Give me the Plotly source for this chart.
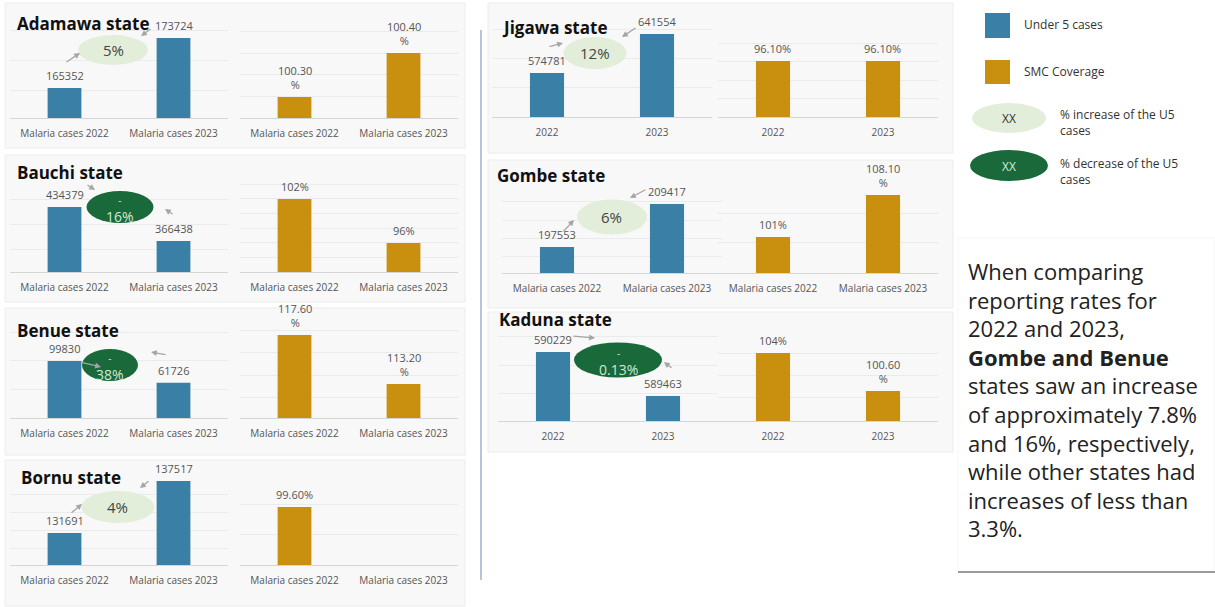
import plotly.graph_objects as go

W, H = 1215, 607

# ---------------- data ----------------
states = ["Adamawa state", "Bauchi state", "Benue state", "Bornu state",
          "Jigawa state", "Gombe state", "Kaduna state"]
cats_long = ["Malaria cases 2022", "Malaria cases 2023"]
cats_short = ["2022", "2023"]
use_short = [False, False, False, False, True, False, True]

u5_2022 = [165352, 434379, 99830, 131691, 574781, 197553, 590229]
u5_2023 = [173724, 366438, 61726, 137517, 641554, 209417, 589463]

smc_2022 = [100.30, 102, 117.60, 99.60, 96.10, 101, 104]
smc_2023 = [100.40, 96, 113.20, None, 96.10, 108.10, 100.60]
smc_2022_lbl = ["100.30<br>%", "102%", "117.60<br>%", "99.60%", "96.10%", "101%", "104%"]
smc_2023_lbl = ["100.40<br>%", "96%", "113.20<br>%", "", "96.10%", "108.10<br>%", "100.60<br>%"]

change_lbl = ["5%", "-16%", "-38%", "4%", "12%", "6%", "-0.13%"]

summary_lines = ["When comparing", "reporting rates for", "2022 and 2023,",
                 "<b>Gombe and Benue</b>", "states saw an increase",
                 "of approximately 7.8%", "and 16%, respectively,",
                 "while other states had", "increases of less than", "3.3%."]

# ---------------- styles / geometry ----------------
BLUE = "#3A7FA5"
GOLD = "#C8900E"
LIGHT = "#E2EEDA"
DARK = "#19693B"
FONT = "Open Sans, Noto Sans, DejaVu Sans"

geo = [
    dict(rect=(5, 3, 465, 148), title=(15, 24), bx=(10, 228), gx=(240, 458), base=118, top=28,
         br=[160329, 175399], gr=[100.252, 100.457], ell=(113, 50, 70, 30),
         arrows=[((65, 63), (80, 53)), ((152, 28), (141, 36))]),
    dict(rect=(5, 155, 465, 302), title=(15, 172), bx=(10, 228), gx=(240, 458), base=272, top=182,
         br=[304488, 484344], gr=[92.04, 104.31], ell=(120, 207, 67, 32),
         arrows=[((86, 184), (95, 190)), ((174, 215), (165, 209))]),
    dict(rect=(5, 308, 465, 455), title=(15, 330), bx=(10, 228), gx=(240, 458), base=418, top=328,
         br=[0, 157600], gr=[110.15, 118.23], ell=(110, 365, 56, 32),
         arrows=[((80, 362), (101, 367)), ((167, 355), (151, 352))]),
    dict(rect=(5, 460, 465, 606), title=(19, 477), bx=(10, 228), gx=(240, 458), base=565, top=477,
         br=[128106, 137965], gr=[90, 104.57], ell=(118, 507, 73, 32),
         arrows=[((70, 514), (82, 504)), ((150, 480), (140, 488))]),
    dict(rect=(488, 3, 953, 153), title=(500, 28), bx=(492, 712), gx=(718, 938), base=117, top=27,
         br=[499441, 653551], gr=[90, 99.8], ell=(595, 53, 63, 32),
         arrows=[((548, 47), (563, 43)), ((637, 27), (622, 37))]),
    dict(rect=(488, 160, 953, 308), title=(495, 176), bx=(502, 722), gx=(718, 938), base=273, top=187,
         br=[190379, 214110], gr=[94.9, 109.44], ell=(612, 217, 70, 35),
         arrows=[((562, 233), (574, 220)), ((647, 189), (630, 198))]),
    dict(rect=(488, 312, 953, 452), title=(497, 319), bx=(498, 718), gx=(718, 938), base=421, top=331,
         br=[589028, 590595], gr=[97.92, 105.97], ell=(618, 360, 88, 35),
         arrows=[((572, 336), (595, 338)), ((673, 369), (664, 362))]),
]


def px(x):
    return x / W


def py(y):
    return 1 - y / H


fig = go.Figure()
layout = dict(width=W, height=H, margin=dict(l=0, r=0, t=0, b=0),
              paper_bgcolor="white", plot_bgcolor="rgba(0,0,0,0)",
              showlegend=False, font=dict(family=FONT, color="#555"))
shapes = []
annotations = []


def axname(k):
    return "" if k == 1 else str(k)


for i, st in enumerate(states):
    g = geo[i]
    cats = cats_short if use_short[i] else cats_long
    # panel background
    x0, y0, x1, y1 = g["rect"]
    shapes.append(dict(type="rect", xref="paper", yref="paper", x0=px(x0), x1=px(x1),
                       y0=py(y1), y1=py(y0), fillcolor="#F8F8F8",
                       line=dict(color="#ECECEC", width=1), layer="below"))
    for j, (vals, lbls, color, xr, yr) in enumerate([
        ([u5_2022[i], u5_2023[i]], [str(u5_2022[i]), str(u5_2023[i])], BLUE, g["bx"], g["br"]),
        ([smc_2022[i], smc_2023[i]], [smc_2022_lbl[i], smc_2023_lbl[i]], GOLD, g["gx"], g["gr"]),
    ]):
        k = 2 * i + j + 1
        fig.add_trace(go.Bar(x=cats, y=vals, marker=dict(color=color, line=dict(width=0)),
                             width=0.31, xaxis="x" + axname(k), yaxis="y" + axname(k),
                             hoverinfo="skip"))
        layout["xaxis" + axname(k)] = dict(
            domain=[px(xr[0]), px(xr[1])], anchor="y" + axname(k), type="category",
            range=[-0.5, 1.5], showline=True, linecolor="#D5D5D5", linewidth=1,
            ticks="", showgrid=False, ticklabelstandoff=6,
            tickfont=dict(size=10, color="#555", family=FONT))
        layout["yaxis" + axname(k)] = dict(
            domain=[py(g["base"]), py(g["top"])], anchor="x" + axname(k), range=yr,
            showticklabels=False, showgrid=True, gridcolor="#EBEBEB", gridwidth=1,
            zeroline=False, nticks=7, ticks="")
        for idx, (v, t) in enumerate(zip(vals, lbls)):
            if v is None or t == "":
                continue
            annotations.append(dict(x=idx, y=v, xref="x" + axname(k), yref="y" + axname(k),
                                    text=t, showarrow=False, xanchor="center", yanchor="bottom",
                                    yshift=3, font=dict(size=11, color="#555", family=FONT)))
    # title
    tx, ty = g["title"]
    annotations.append(dict(x=px(tx), y=py(ty), xref="paper", yref="paper", text="<b>" + st + "</b>",
                            showarrow=False, xanchor="left", yanchor="middle",
                            font=dict(size=17, color="#111", family=FONT)))
    # change ellipse
    cx, cy, ew, eh = g["ell"]
    dark = change_lbl[i].startswith("-")
    shapes.append(dict(type="circle", xref="paper", yref="paper",
                       x0=px(cx - ew / 2), x1=px(cx + ew / 2), y0=py(cy + eh / 2), y1=py(cy - eh / 2),
                       fillcolor=DARK if dark else LIGHT, line=dict(width=0)))
    if dark:
        txt = "<span style='font-size:10px'>-</span><br>" + change_lbl[i][1:]
        annotations.append(dict(x=px(cx), y=py(cy + 2), xref="paper", yref="paper", text=txt,
                                showarrow=False, xanchor="center", yanchor="middle",
                                font=dict(size=14, color="#CDE9D2", family=FONT)))
    else:
        annotations.append(dict(x=px(cx), y=py(cy), xref="paper", yref="paper", text=change_lbl[i],
                                showarrow=False, xanchor="center", yanchor="middle",
                                font=dict(size=15, color="#444", family=FONT)))
    for (tail, head) in g["arrows"]:
        annotations.append(dict(x=px(head[0]), y=py(head[1]), xref="paper", yref="paper", text="",
                                showarrow=True, ax=tail[0] - head[0], ay=tail[1] - head[1],
                                arrowcolor="#A5A5A5", arrowwidth=1.3, arrowhead=2, arrowsize=0.9))

# separator line
shapes.append(dict(type="line", xref="paper", yref="paper", x0=px(481), x1=px(481),
                   y0=py(580), y1=py(30), line=dict(color="#B6C6DA", width=2)))

# legend
shapes.append(dict(type="rect", xref="paper", yref="paper", x0=px(985), x1=px(1010),
                   y0=py(38), y1=py(13), fillcolor=BLUE, line=dict(width=0)))
shapes.append(dict(type="rect", xref="paper", yref="paper", x0=px(985), x1=px(1010),
                   y0=py(84), y1=py(60), fillcolor=GOLD, line=dict(width=0)))
shapes.append(dict(type="circle", xref="paper", yref="paper", x0=px(972), x1=px(1046),
                   y0=py(133), y1=py(103), fillcolor=LIGHT, line=dict(width=0)))
shapes.append(dict(type="circle", xref="paper", yref="paper", x0=px(970), x1=px(1048),
                   y0=py(181), y1=py(150), fillcolor=DARK, line=dict(width=0)))
legend_items = [(1022, 25, "Under 5 cases"), (1022, 72, "SMC Coverage"),
                (1058, 122, "% increase of the U5<br>cases"), (1058, 171, "% decrease of the U5<br>cases")]
for lx, ly, lt in legend_items:
    annotations.append(dict(x=px(lx), y=py(ly), xref="paper", yref="paper", text=lt,
                            showarrow=False, xanchor="left", yanchor="middle", align="left",
                            font=dict(size=12, color="#333", family=FONT)))
annotations.append(dict(x=px(1009), y=py(118), xref="paper", yref="paper", text="XX",
                        showarrow=False, xanchor="center", yanchor="middle",
                        font=dict(size=12, color="#333", family=FONT)))
annotations.append(dict(x=px(1009), y=py(166), xref="paper", yref="paper", text="XX",
                        showarrow=False, xanchor="center", yanchor="middle",
                        font=dict(size=12, color="#D5EFD9", family=FONT)))

# summary text box
shapes.append(dict(type="rect", xref="paper", yref="paper", x0=px(958), x1=px(1214),
                   y0=py(572), y1=py(238), fillcolor="white", line=dict(color="#F6F6F6", width=1),
                   layer="below"))
shapes.append(dict(type="line", xref="paper", yref="paper", x0=px(958), x1=px(1215),
                   y0=py(572), y1=py(572), line=dict(color="#9A9A9A", width=2)))
annotations.append(dict(x=px(966), y=py(400), xref="paper", yref="paper",
                        text="<br>".join(summary_lines), showarrow=False, xanchor="left",
                        yanchor="middle", align="left",
                        font=dict(size=22, color="#222", family=FONT)))

layout["shapes"] = shapes
layout["annotations"] = annotations
fig.update_layout(**layout)
fig.write_html("out.html")
